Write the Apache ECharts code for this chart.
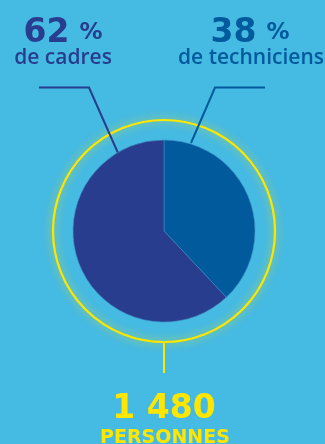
<!DOCTYPE html>
<html><head><meta charset="utf-8">
<script src="https://cdn.jsdelivr.net/npm/echarts@6/dist/echarts.min.js"></script>
<style>html,body{margin:0;padding:0;background:#45bae3;}#c{width:325px;height:444px;}</style>
</head><body><div id="c"></div>
<script>
const categories = ['de techniciens', 'de cadres'];
const values = [38, 62];
const colors = ['#005a9c', '#283d8d'];
const totalLabel = '1 480';
const totalUnit = 'PERSONNES';

const chart = echarts.init(document.getElementById('c'), null, {renderer: 'canvas'});
const F = '"DejaVu Sans", sans-serif';
const F2 = '"Open Sans", sans-serif';
const yellow = '#ffe600';
const cx = 164, cy = 231;

function pct(i, x) {
  return {type: 'text', z: 10, style: {x: x, y: 50, text: '{a|' + values[i] + '}{b|%}', align: 'center', verticalAlign: 'bottom',
    rich: {a: {fontFamily: F, fontWeight: 'bold', fontSize: 33, fill: colors[i]},
           b: {fontFamily: F, fontWeight: 'bold', fontSize: 23, fill: colors[i], padding: [0, 0, 0, 10]}}}};
}
function cat(i, x) {
  return {type: 'text', z: 10, style: {x: x, y: 69, text: categories[i], align: 'center', verticalAlign: 'bottom',
    fontFamily: F2, fontWeight: 600, fontSize: 21, fill: colors[i]}};
}

chart.setOption({
  backgroundColor: '#45bae3',
  animation: false,
  graphic: [
    {type: 'circle', shape: {cx: cx, cy: cy, r: 111}, z: 1,
     style: {fill: 'none', stroke: yellow, lineWidth: 2.2, shadowBlur: 10, shadowColor: 'rgba(255,230,0,0.8)'}},
    {type: 'line', shape: {x1: cx, y1: 342, x2: cx, y2: 373}, z: 1,
     style: {stroke: yellow, lineWidth: 2}},
    {type: 'polyline', shape: {points: [[39, 87.5], [89, 87.5], [118, 153]]}, z: 1,
     style: {stroke: colors[1], lineWidth: 2, fill: null}},
    {type: 'polyline', shape: {points: [[265, 87.5], [215, 87.5], [191, 143]]}, z: 1,
     style: {stroke: colors[0], lineWidth: 2, fill: null}},
    pct(1, 63), pct(0, 250), cat(1, 63), cat(0, 251),
    {type: 'text', z: 10, style: {x: 164, y: 426, text: totalLabel, align: 'center', verticalAlign: 'bottom',
      fontFamily: F, fontWeight: 'bold', fontSize: 33, fill: yellow}},
    {type: 'text', z: 10, style: {x: 165, y: 448, text: totalUnit, align: 'center', verticalAlign: 'bottom',
      fontFamily: F, fontWeight: 'bold', fontSize: 19, fill: yellow}}
  ],
  series: [{
    type: 'pie', center: [cx, cy], radius: 91, startAngle: 90, clockwise: true,
    label: {show: false}, labelLine: {show: false}, emphasis: {disabled: true},
    itemStyle: {borderColor: '#3f8fc8', borderWidth: 0.6},
    data: categories.map((c, i) => ({name: c, value: values[i], itemStyle: {color: colors[i]}}))
  }]
});
</script></body></html>
